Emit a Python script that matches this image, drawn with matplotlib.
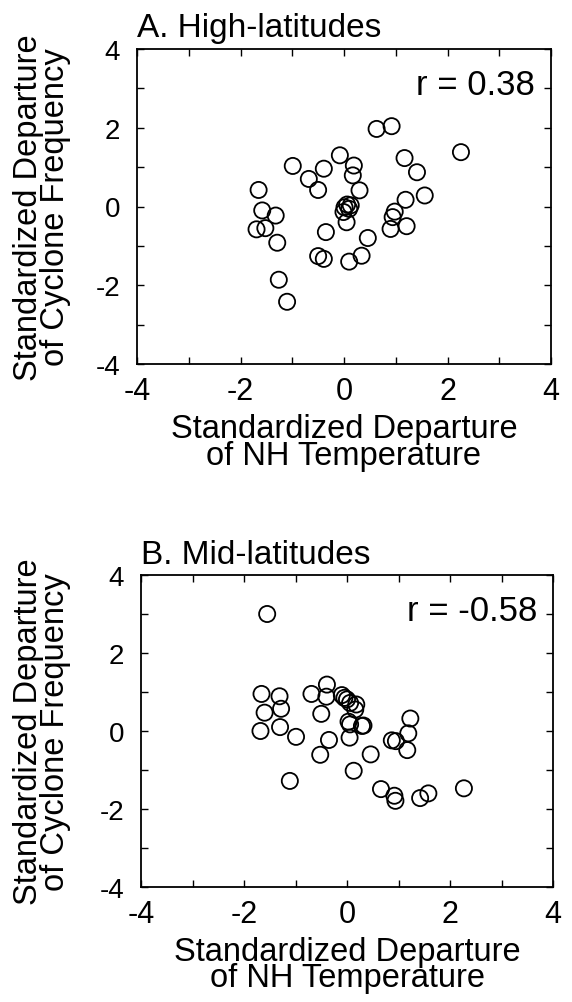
import numpy as np
import matplotlib
matplotlib.use('Agg')
import matplotlib.pyplot as plt
from matplotlib.ticker import MultipleLocator

plt.rcParams['font.family'] = ['Liberation Sans', 'DejaVu Sans']

# ---------------- data ----------------
# A. High-latitudes
hi_temp = [-1.65, -1.58, -1.32, -1.69, -1.52, -1.29, -1.26, -1.10, -0.99, -0.68,
           -0.50, -0.39, -0.08, 0.19, 0.17, 0.30, 0.06, 0.01, 0.10, -0.01,
           0.05, -0.35, -0.50, -0.39, 0.10, 0.34, 0.46, 0.63, 0.92, 1.17,
           1.41, 1.56, 1.19, 0.98, 0.94, 0.90, 1.21, 2.26, 0.13]
hi_cyc = [0.42, -0.10, -0.23, -0.58, -0.55, -0.92, -1.86, -2.42, 1.03, 0.70,
          0.42, 0.96, 1.30, 1.04, 0.79, 0.41, 0.05, -0.02, -0.06, -0.14,
          -0.40, -0.65, -1.26, -1.33, -1.40, -1.25, -0.80, 1.97, 2.04, 1.23,
          0.87, 0.28, 0.17, -0.13, -0.27, -0.57, -0.50, 1.38, 0.03]

# B. Mid-latitudes
mid_temp = [-1.55, -1.66, -1.60, -1.68, -1.31, -1.28, -1.30, -0.99, -1.11, -0.69,
            -0.39, -0.40, -0.50, -0.35, -0.52, -0.10, 0.00, 0.06, 0.18, 0.16,
            0.03, 0.06, 0.32, 0.29, 0.05, 0.13, 0.46, 0.66, 0.92, 0.94,
            0.87, 0.95, 1.23, 1.19, 1.17, 1.42, 1.58, 2.27, -0.05]
mid_cyc = [3.00, 0.95, 0.47, 0.00, 0.89, 0.57, 0.10, -0.15, -1.28, 0.95,
           1.19, 0.88, 0.44, -0.23, -0.61, 0.92, 0.81, 0.72, 0.68, 0.55,
           0.24, 0.17, 0.14, 0.13, -0.17, -1.02, -0.60, -1.49, -1.66, -1.79,
           -0.24, -0.26, 0.32, -0.06, -0.49, -1.72, -1.60, -1.47, 0.85]

titles = ['A. High-latitudes', 'B. Mid-latitudes']
r_labels = ['r = 0.38', 'r = -0.58']
tick_vals = [-4, -2, 0, 2, 4]
tick_text = ['-4', '-2', '0', '2', '4']
xlabel = 'Standardized Departure\nof NH Temperature'
ylabel = 'Standardized Departure\nof Cyclone Frequency'

fig = plt.figure(figsize=(5.72, 10.03), dpi=100)
W, H = 572.0, 1003.0
# axes boxes in pixels: left, top, right, bottom
boxes = [(137, 50, 551, 365), (141, 576, 553, 888)]
panels = [(hi_temp, hi_cyc), (mid_temp, mid_cyc)]

for i in range(2):
    l, t, r, b = boxes[i]
    ax = fig.add_axes([l / W, (H - b) / H, (r - l) / W, (b - t) / H])
    x, y = panels[i]
    ax.scatter(x, y, s=135, facecolors='none', edgecolors='black', linewidths=1.3, zorder=3)
    ax.set_xlim(-4, 4)
    ax.set_ylim(-4, 4)
    ax.set_xticks(tick_vals)
    ax.set_xticklabels(tick_text)
    ax.set_yticks(tick_vals)
    ax.set_yticklabels(tick_text)
    ax.xaxis.set_minor_locator(MultipleLocator(1))
    ax.yaxis.set_minor_locator(MultipleLocator(1))
    ax.tick_params(which='both', direction='in', top=True, right=True,
                   length=5, width=1.0, color='black')
    ax.tick_params(axis='x', labelsize=22, pad=9)
    ax.tick_params(axis='y', labelsize=20, pad=12)
    for sp in ax.spines.values():
        sp.set_linewidth(1.3)

    ax.set_title(titles[i], loc='left', fontsize=24, pad=9)
    ax.text(0.961, 0.856, r_labels[i], transform=ax.transAxes, ha='right',
            va='baseline', fontsize=25)

    # axis titles
    ax.text(0.5, -0.156, xlabel, transform=ax.transAxes, ha='center', va='top',
            fontsize=23.5, linespacing=0.82)
    fig.text(42 / W, (H - (t + b) / 2) / H, ylabel, rotation=90, ha='center',
             va='center', fontsize=23.5, linespacing=0.85, multialignment='center')

fig.savefig('out.png', dpi=100)
